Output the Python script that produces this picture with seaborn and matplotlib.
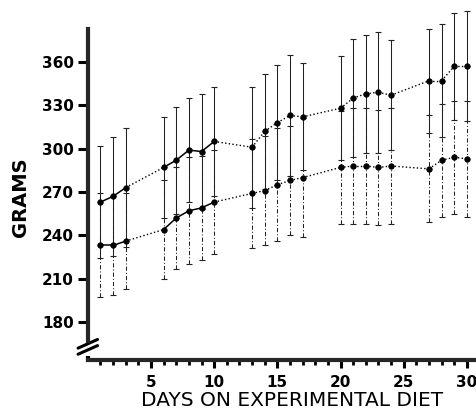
import matplotlib
matplotlib.use("Agg")
import matplotlib.pyplot as plt
import numpy as np
import pandas as pd
import seaborn as sns

# 數據
days = [1, 2, 3, 6, 7, 8, 9, 10, 13, 14, 15, 16, 17, 20, 21, 22, 23, 24, 27, 28, 29, 30]
upper_mean = [263, 267, 273, 287, 292, 299, 298, 305, 301, 312, 318, 323, 322,
              328, 335, 338, 339, 337, 347, 347, 357, 357]
upper_sd = [39, 41, 41, 35, 37, 36, 40, 38, 42, 40, 40, 42, 37,
            36, 41, 41, 42, 38, 36, 39, 37, 38]
lower_mean = [233, 233, 236, 244, 252, 257, 259, 263, 269, 271, 275, 278, 280,
              287, 288, 288, 287, 288, 286, 292, 294, 293]
lower_sd = [36, 34, 33, 34, 35, 37, 36, 36, 38, 38, 39, 38, 41,
            39, 40, 40, 40, 40, 37, 39, 39, 40]
y_ticks = [180, 210, 240, 270, 300, 330, 360]
x_ticks = [5, 10, 15, 20, 25, 30]

sns.set_style("ticks")
plt.rcParams["font.family"] = ["DejaVu Sans"]
plt.rcParams.update({"text.color": "black", "axes.labelcolor": "black",
                     "xtick.color": "black", "ytick.color": "black"})

df = pd.concat([
    pd.DataFrame({"day": days, "grams": upper_mean, "sd": upper_sd, "group": "upper"}),
    pd.DataFrame({"day": days, "grams": lower_mean, "sd": lower_sd, "group": "lower"}),
])

fig = plt.figure(figsize=(4.77, 4.12), dpi=100)
ax = fig.add_axes([87.8 / 477, 52 / 412, 1 - 87.8 / 477, 360 / 412])

for name, ls in [("upper", "-"), ("lower", (0, (4, 2, 1, 2)))]:
    g = df[df["group"] == name]
    eb = ax.errorbar(g["day"], g["grams"], yerr=g["sd"], fmt="none",
                     ecolor="#222222", elinewidth=0.75, capsize=2, capthick=0.8)
    eb[2][0].set_linestyle(ls)
    # 連線：前十天實線，其餘點線
    d = g["day"].to_numpy()
    v = g["grams"].to_numpy()
    for i in range(len(d) - 1):
        solid = (d[i + 1] - d[i] == 1) and d[i + 1] <= 10
        ax.plot(d[i:i + 2], v[i:i + 2], color="black",
                lw=1.1 if solid else 1.0, ls="-" if solid else ":")

sns.scatterplot(data=df, x="day", y="grams", color="black", s=16,
                edgecolor="black", linewidth=0.5, legend=False, ax=ax, zorder=5)

ax.set_xlim(0, 30.8)
ax.set_ylim(153.7, 402.9)
ax.set_xticks(x_ticks)
ax.set_xticks(range(1, 31), minor=True)
ax.set_yticks(y_ticks)
ax.tick_params(axis="x", which="major", length=6, width=2.2, labelsize=11, pad=5)
ax.tick_params(axis="x", which="minor", length=3.5, width=2.0)
ax.tick_params(axis="y", which="major", length=7, width=2.2, labelsize=11, pad=3)
for lab in ax.get_xticklabels() + ax.get_yticklabels():
    lab.set_fontweight("bold")

sns.despine(ax=ax)
ax.spines["left"].set_linewidth(3)
ax.spines["bottom"].set_linewidth(3)
ax.spines["left"].set_bounds(167, 383)

# 軸斷裂符號
tr = ax.transAxes
ax.plot([0, 0], [0, 0.012], color="black", lw=3, transform=tr, clip_on=False, solid_capstyle="butt")
for y0 in [0.028, 0.045]:
    ax.plot([-0.025, 0.025], [y0 - 0.012, y0 + 0.012], color="black", lw=2.2,
            transform=tr, clip_on=False)

ax.set_xlabel("DAYS ON EXPERIMENTAL DIET", fontsize=14.5)
ax.set_ylabel("GRAMS", fontsize=14, fontweight="bold")
ax.yaxis.set_label_coords(-0.148, 0.453)
ax.xaxis.set_label_coords(0.525, -0.086)

fig.savefig("out.png", dpi=100)
